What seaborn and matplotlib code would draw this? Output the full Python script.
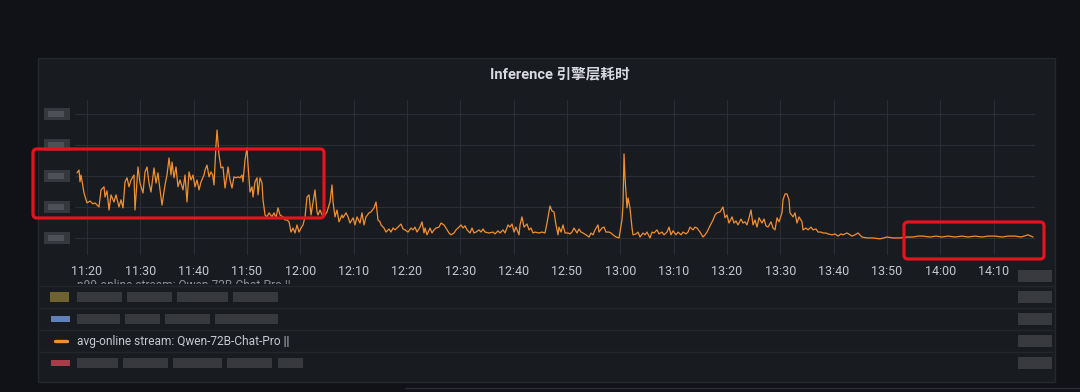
import matplotlib
matplotlib.use("Agg")
import matplotlib.pyplot as plt
import matplotlib.dates as mdates
from matplotlib.patches import FancyBboxPatch, Rectangle
from matplotlib.lines import Line2D
from matplotlib.transforms import Bbox, IdentityTransform
import pandas as pd
import seaborn as sns

# -----------------------------------------------------------------------------
# Data (y labels are blurred so units are relative)
# -----------------------------------------------------------------------------
TITLE = "Inference 引擎层耗时"
SERIES_LABEL = "avg-online stream: Qwen-72B-Chat-Pro ||"
HIDDEN_LABEL = "p99-online stream: Qwen-72B-Chat-Pro ||"

# minutes after 11:00
minutes_after_11 = [
    18.13, 18.50, 18.69, 18.88, 19.44, 20.00, 20.56, 21.13, 21.50, 22.25,
    22.63, 23.19, 23.38, 23.75, 24.13, 24.50, 25.06, 25.44, 26.00, 26.38,
    26.75, 27.13, 27.50, 27.88, 28.25, 28.81, 29.00, 29.56, 29.94, 30.50,
    30.88, 31.25, 31.63, 32.00, 32.56, 32.94, 33.31, 33.50, 34.06, 34.63,
    35.00, 35.38, 35.75, 35.94, 36.31, 36.69, 37.06, 37.44, 38.00, 38.38,
    38.75, 39.13, 39.50, 39.88, 40.25, 40.63, 41.00, 41.38, 41.94, 42.13,
    42.50, 42.88, 43.25, 43.56, 43.81, 44.19, 44.38, 44.75, 45.13, 45.50,
    45.88, 46.25, 46.44, 46.81, 47.19, 47.56, 47.94, 48.31, 48.69, 49.06,
    49.25, 49.63, 50.00, 50.19, 50.56, 50.94, 51.13, 51.50, 51.88, 52.06,
    52.44, 52.81, 53.00, 53.38, 53.75, 54.13, 54.69, 55.06, 55.44, 55.81,
    56.19, 56.75, 57.13, 57.50, 57.88, 58.25, 58.63, 59.00, 59.38, 59.75,
    60.13, 60.50, 60.88, 61.25, 61.63, 62.00, 62.38, 62.75, 63.13, 63.31,
    63.69, 64.25, 64.63, 65.00, 65.56, 65.94, 66.13, 66.50, 66.88, 67.25,
    67.81, 68.00, 68.56, 68.94, 69.31, 69.88, 70.25, 70.63, 71.19, 71.56,
    71.94, 72.31, 72.88, 73.25, 73.81, 74.19, 74.56, 74.94, 75.13, 75.69,
    76.06, 76.63, 77.00, 77.38, 77.75, 78.31, 78.88, 79.25, 79.63, 80.19,
    80.75, 81.13, 81.50, 81.88, 82.44, 82.81, 83.19, 83.38, 83.75, 84.31,
    84.69, 85.06, 85.44, 86.00, 86.38, 86.94, 87.31, 87.88, 88.25, 88.81,
    89.19, 89.75, 90.13, 90.50, 90.88, 91.25, 91.81, 92.19, 92.56, 92.94,
    93.50, 93.88, 94.25, 94.63, 95.38, 96.13, 96.50, 97.06, 97.44, 98.00,
    98.38, 98.94, 99.31, 99.69, 100.06, 100.44, 101.00, 101.19, 101.56, 101.94,
    102.50, 102.88, 103.25, 103.63, 104.00, 104.75, 105.31, 105.88, 106.25, 106.63,
    106.81, 107.19, 107.56, 107.94, 108.31, 108.50, 108.88, 109.25, 109.63, 110.19,
    110.56, 110.94, 111.31, 111.88, 112.25, 112.63, 113.00, 113.56, 114.13, 114.50,
    114.88, 115.25, 115.81, 116.00, 116.56, 116.94, 117.31, 117.88, 118.25, 118.63,
    119.19, 119.75, 119.94, 120.31, 120.50, 120.69, 120.88, 121.25, 121.44, 121.81,
    122.19, 122.38, 122.94, 123.31, 123.69, 124.25, 124.63, 125.00, 125.56, 125.94,
    126.31, 126.88, 127.25, 127.81, 128.19, 128.75, 129.13, 129.50, 129.88, 130.44,
    130.81, 131.38, 131.75, 132.31, 132.69, 133.06, 133.63, 134.00, 134.38, 134.94,
    135.50, 135.88, 136.25, 136.81, 137.38, 137.75, 138.13, 138.69, 139.25, 139.63,
    140.00, 140.38, 140.94, 141.31, 141.69, 142.06, 142.63, 143.00, 143.38, 143.75,
    144.13, 144.50, 144.88, 145.25, 145.63, 146.00, 146.56, 146.94, 147.31, 147.69,
    148.25, 148.63, 149.00, 149.38, 149.75, 150.31, 150.50, 150.88, 151.25, 151.63,
    151.81, 152.38, 152.75, 153.13, 153.50, 154.06, 154.25, 154.81, 155.19, 155.75,
    156.13, 156.69, 157.06, 157.63, 158.00, 158.56, 158.94, 159.69, 160.25, 160.81,
    161.38, 161.75, 162.50, 163.44, 164.00, 164.56, 165.31, 166.25, 167.38, 168.69,
    170.00, 171.13, 172.44, 173.75, 174.88, 175.81, 176.75, 178.06, 179.19, 180.31,
    181.44, 182.75, 184.06, 185.19, 186.50, 187.81, 188.94, 190.25, 191.56, 192.69,
    194.00, 195.13, 196.44, 197.38,
]

latency = [
    3.10, 3.19, 2.81, 3.03, 2.45, 2.13, 2.19, 2.10, 2.13, 2.00,
    2.55, 2.65, 2.32, 2.52, 1.90, 2.39, 2.16, 2.39, 2.00, 2.23,
    1.97, 2.81, 2.94, 2.65, 2.87, 3.03, 1.90, 3.29, 2.77, 2.45,
    3.13, 3.29, 2.77, 2.48, 3.26, 2.77, 3.10, 2.81, 2.06, 2.71,
    3.03, 3.58, 3.03, 3.45, 2.94, 3.29, 2.65, 2.87, 2.55, 3.03,
    2.16, 3.13, 2.87, 3.03, 2.65, 2.87, 2.55, 2.81, 3.03, 3.19,
    3.35, 2.97, 3.13, 3.03, 2.71, 4.00, 4.48, 3.68, 3.26, 3.29,
    2.61, 3.03, 3.29, 2.87, 2.61, 2.97, 2.94, 2.97, 2.94, 3.03,
    2.81, 3.52, 3.90, 3.35, 2.48, 2.65, 2.32, 2.81, 2.94, 2.39,
    2.94, 2.77, 2.23, 1.74, 1.68, 1.81, 1.68, 1.81, 1.65, 1.97,
    1.74, 1.68, 1.58, 1.58, 1.52, 1.19, 1.32, 1.16, 1.42, 1.19,
    1.32, 1.42, 1.68, 2.32, 2.39, 1.74, 2.16, 2.55, 1.84, 1.74,
    1.90, 1.68, 1.74, 1.84, 2.16, 2.71, 2.16, 1.68, 1.90, 1.52,
    1.74, 1.65, 1.81, 1.68, 1.48, 1.65, 1.42, 1.68, 1.48, 1.81,
    1.42, 1.68, 1.81, 1.84, 1.97, 2.16, 1.58, 1.52, 1.42, 1.32,
    1.19, 1.29, 1.19, 1.32, 1.26, 1.35, 1.45, 1.29, 1.26, 1.19,
    1.32, 1.26, 1.35, 1.19, 1.35, 1.52, 1.16, 1.32, 1.10, 1.32,
    1.16, 1.26, 1.32, 1.35, 1.48, 1.42, 1.32, 1.16, 1.10, 1.16,
    1.26, 1.35, 1.42, 1.32, 1.39, 1.26, 1.16, 1.32, 1.16, 1.19,
    1.26, 1.19, 1.29, 1.19, 1.16, 1.19, 1.13, 1.23, 1.16, 1.26,
    1.16, 1.42, 1.35, 1.45, 1.19, 1.35, 1.10, 1.42, 1.68, 1.35,
    1.45, 1.26, 1.32, 1.16, 1.19, 1.16, 1.19, 1.16, 1.48, 1.84,
    2.03, 1.87, 1.84, 1.42, 1.10, 1.35, 1.19, 1.42, 1.16, 1.16,
    1.13, 1.19, 1.32, 1.16, 1.29, 1.19, 1.16, 1.10, 1.03, 1.16,
    1.10, 1.26, 1.42, 1.19, 1.32, 1.35, 1.19, 1.19, 1.16, 1.10,
    1.03, 1.00, 1.19, 1.58, 2.06, 3.71, 2.94, 1.97, 2.29, 1.97,
    1.32, 1.10, 1.13, 1.19, 1.03, 1.16, 1.10, 1.19, 1.00, 1.19,
    1.16, 1.26, 1.13, 1.19, 1.10, 1.19, 1.35, 1.10, 1.23, 1.10,
    1.19, 1.10, 1.19, 1.13, 1.19, 1.35, 1.26, 1.35, 1.32, 1.19,
    1.03, 1.10, 1.19, 1.39, 1.58, 1.74, 1.81, 1.84, 2.00, 1.65,
    1.74, 1.48, 1.68, 1.48, 1.55, 1.42, 1.61, 1.48, 1.52, 1.42,
    1.65, 1.90, 1.42, 1.58, 1.35, 1.65, 1.48, 1.61, 1.39, 1.35,
    1.52, 1.32, 1.26, 1.65, 1.52, 1.81, 2.23, 2.42, 2.42, 2.23,
    1.81, 1.68, 1.81, 1.48, 1.68, 1.52, 1.26, 1.32, 1.26, 1.35,
    1.26, 1.29, 1.19, 1.19, 1.16, 1.16, 1.13, 1.10, 1.13, 1.06,
    1.13, 1.10, 1.16, 1.06, 1.10, 1.16, 1.03, 1.00, 1.00, 0.97,
    1.03, 1.00, 1.00, 1.03, 1.03, 1.06, 1.06, 1.03, 1.06, 1.03,
    1.06, 1.03, 1.06, 1.03, 1.06, 1.03, 1.06, 1.06, 1.03, 1.06,
    1.06, 1.03, 1.10, 1.03,
]

y_ticks = [1, 2, 3, 4, 5]
x_range_minutes = (17.75, 197.75)
y_range = (0.45, 5.45)

# -----------------------------------------------------------------------------
# Style
# -----------------------------------------------------------------------------
W, H, DPI = 1080, 392, 100
BG = "#111217"
PANEL = "#181b1f"
BORDER = "#25282d"
GRID = "#2c2f35"
TEXT = "#c7c8d2"
ORANGE = "#f28f2e"
RED = "#e3141d"
BLUR = "#3f4148"

sns.set_theme(style="dark", rc={
    "axes.facecolor": PANEL,
    "figure.facecolor": BG,
    "grid.color": GRID,
})
plt.rcParams["font.family"] = ["Roboto", "Noto Sans CJK SC", "DejaVu Sans"]

base = pd.Timestamp("2024-01-01 11:00")
df = pd.DataFrame({
    "time": base + pd.to_timedelta(minutes_after_11, unit="min"),
    "latency": latency,
})

fig = plt.figure(figsize=(W / DPI, H / DPI), dpi=DPI)
px = IdentityTransform()


def sy(y):
    """screen y (from top) -> display y (from bottom)"""
    return H - y


# panel background
fig.add_artist(Rectangle((38, sy(382)), 1017, 324, transform=px,
                         fc=PANEL, ec=BORDER, lw=1, zorder=-2))
# top edge of the next panel below
fig.add_artist(Line2D([405, 1080], [sy(388), sy(388)], transform=px,
                      color="#2a2d33", lw=1, zorder=-1))

# -----------------------------------------------------------------------------
# Time series
# -----------------------------------------------------------------------------
ax = fig.add_axes([75 / W, 1 - 255 / H, 960 / W, 155 / H])
sns.lineplot(data=df, x="time", y="latency", ax=ax, color=ORANGE,
             linewidth=0.9, estimator=None, legend=False)

ax.set_xlim(base + pd.Timedelta(minutes=x_range_minutes[0]),
            base + pd.Timedelta(minutes=x_range_minutes[1]))
ax.set_ylim(*y_range)
ax.set_yticks(y_ticks)
ax.set_yticklabels([""] * len(y_ticks))
ax.xaxis.set_major_locator(mdates.MinuteLocator(byminute=range(0, 60, 10)))
ax.xaxis.set_major_formatter(mdates.DateFormatter("%H:%M"))
ax.grid(True, color=GRID, linewidth=0.7)
ax.tick_params(length=0, pad=7, labelsize=9, colors=TEXT)
ax.set_xlabel("")
ax.set_ylabel("")
for s in ax.spines.values():
    s.set_visible(False)

fig.text(560, sy(74), TITLE, transform=px, ha="center", va="center",
         fontsize=10.5, fontweight="bold", color="#d8d9e0")

# blurred y tick labels (unreadable in the source)
fig.canvas.draw()
for v in y_ticks:
    yd = ax.transData.transform((ax.get_xlim()[0], v))[1]
    fig.add_artist(Rectangle((44, yd - 6), 26, 12, transform=px,
                             fc="#4e5057", ec="none", alpha=0.55))
    fig.add_artist(Rectangle((48, yd - 3), 16, 6, transform=px,
                             fc="#6c6e75", ec="none", alpha=0.45))

# -----------------------------------------------------------------------------
# Legend table
# -----------------------------------------------------------------------------
for y in [286, 308, 330, 352]:
    fig.add_artist(Line2D([38, 1053], [sy(y), sy(y)], transform=px,
                          color="#23262b", lw=1))

# partially hidden (scrolled) legend row, only its upper part shows
hidden = fig.text(77, sy(286), HIDDEN_LABEL, transform=px, va="center",
                  fontsize=8.6, color="#8e8f97")
hidden.set_clip_box(Bbox.from_extents(0, sy(284), W, sy(276)))
hidden.set_clip_on(True)

rows_y = [297, 319, 341, 363]
fig.add_artist(Rectangle((50, sy(302)), 19, 10, transform=px,
                         fc="#6e6230", ec="none"))
fig.add_artist(Rectangle((51, sy(322)), 19, 6, transform=px,
                         fc="#5f80b8", ec="none"))
fig.add_artist(Line2D([55, 67], [sy(341), sy(341)], transform=px,
                      color=ORANGE, lw=2.4, solid_capstyle="round"))
fig.add_artist(Rectangle((51, sy(366)), 19, 6, transform=px,
                         fc="#a63e49", ec="none"))

fig.text(77, sy(341), SERIES_LABEL, transform=px, va="center",
         fontsize=8.6, color=TEXT)

blur_words = {
    297: [(77, 122), (127, 172), (177, 228), (233, 278)],
    319: [(77, 120), (125, 160), (165, 210), (215, 278)],
    363: [(77, 118), (123, 168), (173, 222), (227, 272), (278, 303)],
}
for y, words in blur_words.items():
    for x0, x1 in words:
        fig.add_artist(Rectangle((x0, sy(y) - 5), x1 - x0, 10, transform=px,
                                 fc=BLUR, ec="none", alpha=0.8))

# blurred values on the right
for y in [276] + rows_y:
    fig.add_artist(Rectangle((1018, sy(y) - 6), 34, 12, transform=px,
                             fc="#4e5057", ec="none", alpha=0.6))

# -----------------------------------------------------------------------------
# Red highlight boxes
# -----------------------------------------------------------------------------
for x0, y0, x1, y1 in [(33, 149, 324, 218), (904, 222, 1044, 259)]:
    fig.add_artist(FancyBboxPatch((x0, sy(y1)), x1 - x0, y1 - y0,
                                  boxstyle="round,pad=0,rounding_size=4",
                                  transform=px, fill=False, ec=RED,
                                  lw=2.3, zorder=10))

fig.savefig("out.png", dpi=DPI, facecolor=BG)
